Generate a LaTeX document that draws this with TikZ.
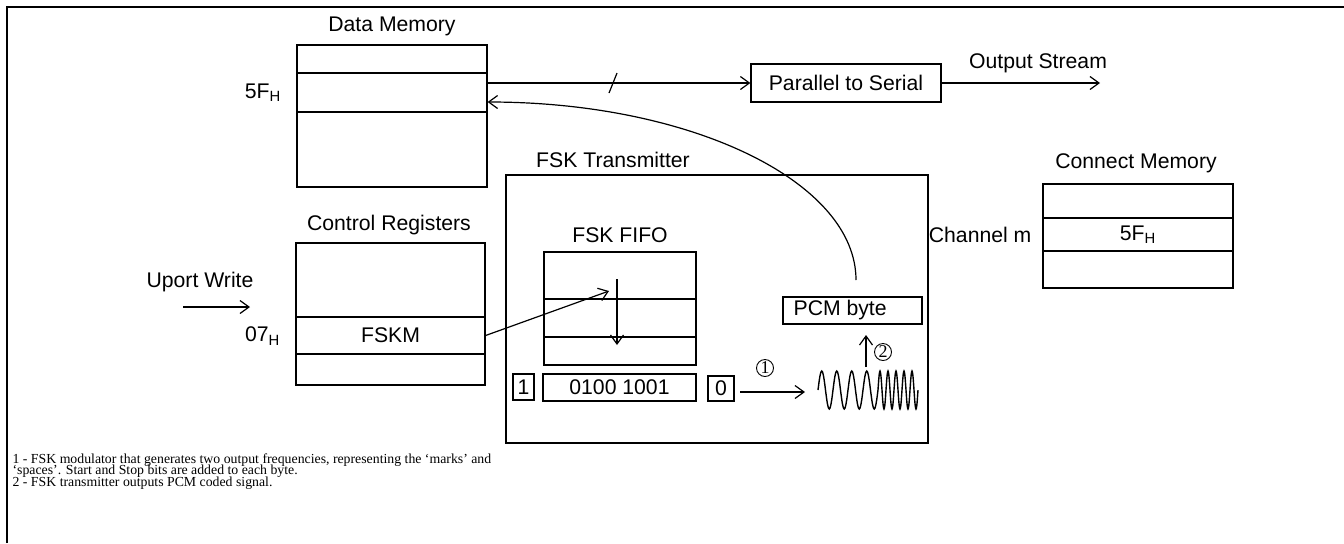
\documentclass[tikz,border=0pt]{standalone}
\usepackage{fontspec}
\setmainfont{Liberation Sans}
\newfontfamily\notefont{Liberation Serif}
\usetikzlibrary{arrows.meta, calc}

\begin{document}
\begin{tikzpicture}[x=0.5pt, y=-0.5pt, line width=0.6pt,
    every node/.style={inner sep=0pt, font=\fontsize{10.6}{12.7}\selectfont},
    cell/.style 2 args={draw, minimum width=#1*0.5pt, minimum height=#2*0.5pt},
    arr/.style={-{Straight Barb[length=4.5pt, width=6.5pt]}},
    circnum/.style={draw, circle, line width=0.45pt, minimum size=8.5pt,
      font=\notefont\fontsize{9}{10}\selectfont},
    note/.style={anchor=base west, font=\notefont\fontsize{6.9}{7.5}\selectfont},
    frameline/.style={line width=1.3pt}]
  \useasboundingbox (0,0) rectangle (1344,543);
  \draw[frameline] (7,543) -- (7,7) -- (1344,7);

  % data memory
  \node[cell={190}{28}] (dm1) at (392,59) {};
  \node[cell={190}{39}] (dm2) at (392,92.5) {};
  \node[cell={190}{75}] (dm3) at (392,149.5) {};
  \node (dmtitle) at (392,26) {Data Memory};
  \node[anchor=east] (dmaddr) at (282,92.5) {5F\textsubscript{H}};

  % parallel to serial
  \node[cell={190}{38}] (p2s) at (846,83) {Parallel to Serial};
  \coordinate (outend) at (1100,83);
  \node (outlabel) at (1038,63) {Output Stream};
  \draw[arr] (dm2.east |- p2s.west) -- (p2s);
  \draw[arr] (p2s) -- (outend);
  \coordinate (bus) at (613,83);
  \draw ($(bus)+(-4,10)$) -- ($(bus)+(4,-10)$);

  % fsk transmitter
  \node[cell={422}{268}] (tx) at (717,309) {};
  \node (txtitle) at (613,160) {FSK Transmitter};

  % connect memory
  \node[cell={190}{34}] (cm1) at (1138,201) {};
  \node[cell={190}{33}] (cm2) at (1138,234.5) {5F\textsubscript{H}};
  \node[cell={190}{37}] (cm3) at (1138,269.5) {};
  \node (cmtitle) at (1136,163) {Connect Memory};
  \node[anchor=east] (chan) at (1032,234.5) {Channel m};

  % control registers
  \node[cell={189}{74}] (cr1) at (390.5,280) {};
  \node[cell={189}{37}] (cr2) at (390.5,335.5) {FSKM};
  \node[cell={189}{31}] (cr3) at (390.5,369.5) {};
  \node (crtitle) at (389,225) {Control Registers};
  \node[anchor=east] (craddr) at (281,336) {07\textsubscript{H}};
  \node (uport) at (200,282) {Uport Write};
  \coordinate (upin) at (183,307);
  \coordinate (upout) at (250,307);
  \draw[arr] (upin) -- (upout);

  % fsk fifo
  \node[cell={152}{47}] (ff1) at (620,275.5) {};
  \node[cell={152}{38}] (ff2) at (620,318) {};
  \node[cell={152}{28}] (ff3) at (620,351) {};
  \node (fftitle) at (620,235) {FSK FIFO};
  \coordinate (fftop) at (617,279);
  \coordinate (ffbot) at (617,345);
  \draw[arr] (fftop) -- (ffbot);
  \coordinate (ffin) at (609,291);
  \draw[arr] (cr2.east) -- (ffin);

  % start, data and stop bits
  \node[cell={21}{26}] (start) at (523.5,387) {1};
  \node[cell={153}{27}] (byte) at (619.5,387.5) {0100 1001};
  \node[cell={26}{25}] (stop) at (721,388.5) {0};
  \coordinate (modin) at (740,392);
  \coordinate (modout) at (805,392);
  \draw[arr] (modin) -- (modout);
  \node[circnum] (n1) at (765,368) {1};

  % fsk signal
  \draw[line width=0.7pt] plot[domain=0:4, samples=81, smooth] ({818+15*\x}, {390-19*sin(360*\x)})
    -- plot[domain=0:5, samples=101, smooth] ({878+8*\x}, {390-19*sin(360*\x)});

  % pcm byte
  \node[cell={139}{27}] (pcm) at (852.5,310.5) {};
  \node[anchor=west] (pcmtext) at (793,310.5) {PCM byte};
  \coordinate (wavetop) at (866,367);
  \coordinate (pcmin) at (866,335);
  \draw[arr] (wavetop) -- (pcmin);
  \node[circnum] (n2) at (883,352) {2};

  % back to data memory
  \coordinate (pcmout) at (856,280);
  \coordinate (dmin) at ($(dm2.east)+(0,9.5)$);
  \draw[arr] (pcmout) .. controls +(0,-98) and +(204,0) .. (dmin);

  % notes
  \node[note] (note1) at (12,463) {1 - FSK modulator that generates two output frequencies, representing the ‘marks’ and};
  \node[note] (note2) at (12,474.5) {‘spaces’. Start and Stop bits are added to each byte.};
  \node[note] (note3) at (12,486) {2 - FSK transmitter outputs PCM coded signal.};
\end{tikzpicture}
\end{document}
